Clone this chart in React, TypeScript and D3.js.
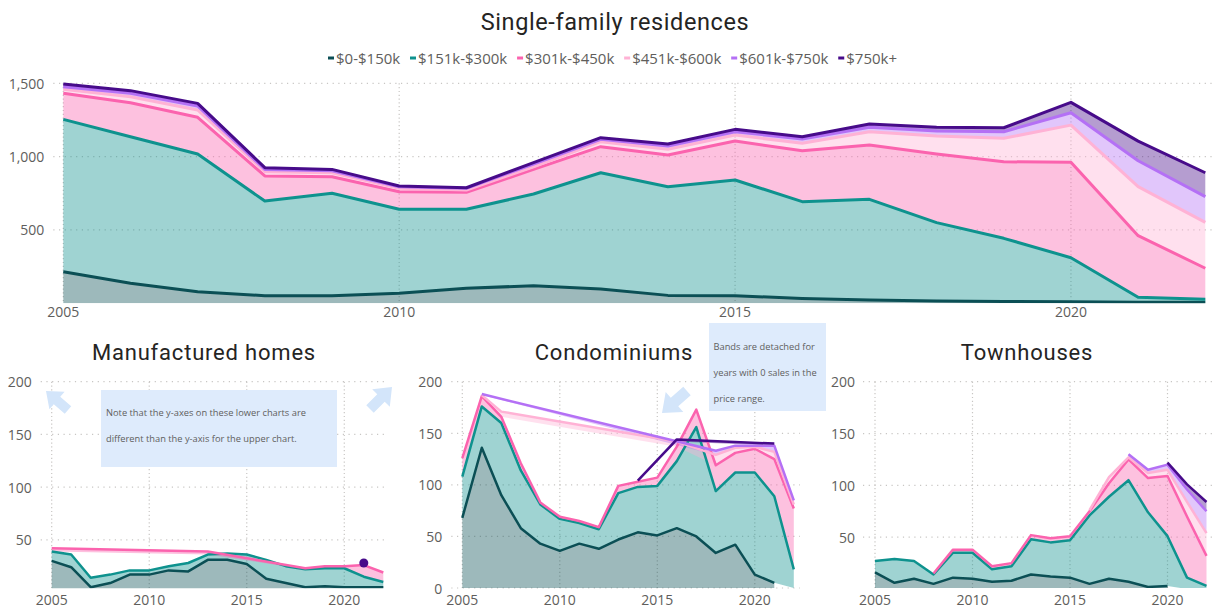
import React from 'react';
import * as d3 from 'd3';

type V = number | null;
const _ = null;

const years = [2005, 2006, 2007, 2008, 2009, 2010, 2011, 2012, 2013, 2014, 2015, 2016, 2017, 2018, 2019, 2020, 2021, 2022];
const labelYears = [2005, 2010, 2015, 2020];
const seriesNames = ['$0-$150k', '$151k-$300k', '$301k-$450k', '$451k-$600k', '$601k-$750k', '$750k+'];
const seriesColors = ['#0B4F55', '#0E928E', '#FB63AE', '#FFB2D5', '#B470F5', '#470B8A'];

// Single-family residences
const sfr0: V[] = [215, 136, 79, 52, 52, 68, 102, 120, 97, 54, 52, 32, 22, 16, 12, 10, 8, 7];
const sfr1: V[] = [1039, 1000, 939, 645, 698, 573, 539, 625, 793, 741, 789, 661, 687, 534, 431, 301, 33, 20];
const sfr2: V[] = [178, 232, 250, 171, 113, 120, 116, 168, 178, 216, 265, 347, 370, 468, 522, 650, 420, 212];
const sfr3: V[] = [27, 40, 50, 29, 27, 23, 15, 18, 34, 39, 41, 51, 91, 122, 160, 254, 334, 313];
const sfr4: V[] = [18, 24, 27, 16, 14, 11, 12, 19, 16, 22, 23, 29, 30, 35, 45, 84, 177, 175];
const sfr5: V[] = [18, 18, 18, 12, 9, 5, 4, 9, 11, 14, 16, 16, 22, 25, 27, 71, 134, 163];

// Manufactured homes
const mh0: V[] = [30, 24, 5, 9, 17, 17, 21, 20, 31, 31, 27, 13, 9, 5, 6, 5, 5, 5];
const mh1: V[] = [9, 12, 9, 8, 4, 4, 4, 8, 5, 6, 9, 18, 16, 17, 17, 18, 10, 5];
const mh2: V[] = [3, _, _, _, _, _, _, _, 3, _, _, _, _, 1, 2, 2, 11, 9];
const mh3: V[] = [_, _, _, _, _, _, _, _, _, _, _, _, _, _, _, _, _, _];
const mh4: V[] = [_, _, _, _, _, _, _, _, _, _, _, _, _, _, _, _, _, _];
const mh5: V[] = [_, _, _, _, _, _, _, _, _, _, _, _, _, _, _, _, 2, _];

// Condominiums
const co0: V[] = [68, 136, 90, 58, 43, 36, 43, 38, 47, 54, 51, 58, 50, 34, 42, 13, 5, _];
const co1: V[] = [40, 40, 70, 56, 38, 31, 20, 19, 45, 44, 48, 65, 106, 60, 70, 99, 84, 18];
const co2: V[] = [18, 10, 6, 7, 2, 2, 2, 2, 7, 5, 8, 14, 17, 25, 19, 23, 36, 59];
const co3: V[] = [_, 1, 5, _, _, _, _, _, _, _, _, 5, _, 10, 5, 2, 7, 4];
const co4: V[] = [_, 1, _, _, _, _, _, _, _, _, _, _, _, 4, 2, 1, 6, 4];
const co5: V[] = [_, _, _, _, _, _, _, _, _, 1, _, 2, _, _, _, _, 2, _];

// Townhouses
const th0: V[] = [16, 6, 10, 5, 11, 10, 7, 8, 14, 12, 11, 5, 10, 7, 2, 3, _, _];
const th1: V[] = [11, 23, 17, 9, 24, 25, 12, 14, 34, 33, 36, 66, 79, 98, 72, 48, 11, 3];
const th2: V[] = [_, _, _, 1, 3, 3, 3, 3, 4, 4, 4, 4, 13, 20, 33, 58, 59, 29];
const th3: V[] = [_, _, _, _, _, _, _, _, _, _, _, 1, 6, 2, 5, 6, 14, 22];
const th4: V[] = [_, _, _, _, _, _, _, _, _, _, _, _, _, 3, 3, 5, 12, 21];
const th5: V[] = [_, _, _, _, _, _, _, _, _, _, _, _, _, _, _, 2, 5, 9];

const FONT = "'Segoe UI', 'Open Sans', sans-serif";
const TITLE_FONT = "'DIN', Roboto, sans-serif";
const GREY = '#605E5C';
const GRID = '#C8C6C4';

type P = { year: number; y0: number; y1: number };

function stackSeries(series: V[][]): P[][] {
  return series.map((vals, k) => {
    const pts: P[] = [];
    vals.forEach((v, i) => {
      if (v == null) return;
      let base = 0;
      for (let j = 0; j < k; j++) {
        const w = series[j][i];
        if (w != null) base += w;
      }
      pts.push({ year: years[i], y0: base, y1: base + v });
    });
    return pts;
  });
}

type PanelProps = {
  id: string;
  series: V[][];
  xRange: [number, number];
  yRange: [number, number];
  yDomain: [number, number];
  ticks: number[];
  fmt: (n: number) => string;
  gridLeftPad: number;
  gridRightPad: number;
  labelGap: number;
  xLabelY: number;
  lw: number;
  title: string;
  titleX: number;
  titleY: number;
  titleSize: number;
  titleSpacing: number;
};

function Panel(p: PanelProps) {
  const x = d3.scaleLinear().domain([years[0], years[years.length - 1]]).range(p.xRange);
  const y = d3.scaleLinear().domain(p.yDomain).range(p.yRange);
  const stacked = stackSeries(p.series);
  const area = d3.area<P>().x(d => x(d.year)).y0(d => y(d.y0)).y1(d => y(d.y1));
  const line = d3.line<P>().x(d => x(d.year)).y(d => y(d.y1));
  const x0 = p.xRange[0];
  const x1 = p.xRange[1];
  const yTop = y(p.yDomain[1]);
  const yBot = p.yRange[0];
  const ticks = p.ticks.filter(t => t >= p.yDomain[0]);
  return (
    <g>
      <defs>
        <clipPath id={p.id}>
          <rect x={x0 - 20} y={0} width={x1 - x0 + 40} height={yBot} />
        </clipPath>
      </defs>
      <text x={p.titleX} y={p.titleY} textAnchor="middle" dominantBaseline="central"
        fontFamily={TITLE_FONT} fontSize={p.titleSize} letterSpacing={p.titleSpacing} fill="#252423">{p.title}</text>
      {ticks.map(t => (
        <g key={'h' + t}>
          <line x1={x0 - p.gridLeftPad} x2={x1 + p.gridRightPad} y1={y(t)} y2={y(t)}
            stroke={GRID} strokeWidth={1.2} strokeDasharray="1.2,4.5" />
          <text x={x0 - p.labelGap} y={y(t)} textAnchor="end" dominantBaseline="central"
            fontFamily={FONT} fontSize={14} fill={GREY}>{p.fmt(t)}</text>
        </g>
      ))}
      {labelYears.map(yr => (
        <g key={'v' + yr}>
          <line x1={x(yr)} x2={x(yr)} y1={yTop} y2={yBot} stroke={GRID} strokeWidth={1.2} strokeDasharray="1.2,2.6" />
          <text x={x(yr)} y={p.xLabelY} textAnchor="middle" dominantBaseline="central"
            fontFamily={FONT} fontSize={14} fill={GREY}>{yr}</text>
        </g>
      ))}
      <g clipPath={`url(#${p.id})`}>
        {stacked.map((pts, k) => pts.length > 1 ? (
          <path key={'a' + k} d={area(pts) || ''} fill={seriesColors[k]} fillOpacity={0.4} stroke="none" />
        ) : null)}
        {stacked.map((pts, k) => pts.length > 1 ? (
          <path key={'l' + k} d={line(pts) || ''} fill="none" stroke={seriesColors[k]} strokeWidth={p.lw}
            strokeLinejoin="round" />
        ) : pts.length === 1 ? (
          <circle key={'c' + k} cx={x(pts[0].year)} cy={y(pts[0].y1)} r={4.5} fill={seriesColors[k]} />
        ) : null)}
      </g>
    </g>
  );
}

function measure(text: string, font: string): number {
  const c = document.createElement('canvas').getContext('2d');
  if (!c) return text.length * 8;
  c.font = font;
  return c.measureText(text).width;
}

function Legend({ left, right, cy }: { left: number; right: number; cy: number }) {
  const fs = 15;
  const font = `${fs}px 'Segoe UI', 'Open Sans', sans-serif`;
  const widths = seriesNames.map(n => measure(n, font));
  const mW = 6, mGap = 2;
  const inner = widths.reduce((s, w) => s + mW + mGap + w, 0);
  const iGap = Math.max(3, (right - left - inner) / (widths.length - 1));
  let xx = left;
  const items = seriesNames.map((n, i) => {
    const it = { x: xx, n, c: seriesColors[i] };
    xx += mW + mGap + widths[i] + iGap;
    return it;
  });
  return (
    <g>
      {items.map(it => (
        <g key={it.n}>
          <line x1={it.x} x2={it.x + mW} y1={cy} y2={cy} stroke={it.c} strokeWidth={3} />
          <text x={it.x + mW + mGap} y={cy} dominantBaseline="central" fontFamily={FONT} fontSize={fs} fill={GREY}>{it.n}</text>
        </g>
      ))}
    </g>
  );
}

function Arrow({ tip, tail }: { tip: [number, number]; tail: [number, number] }) {
  const dx = tip[0] - tail[0], dy = tip[1] - tail[1];
  const L = Math.hypot(dx, dy);
  const ux = dx / L, uy = dy / L, nx = -uy, ny = ux;
  const neck = [tail[0] + ux * L * 0.5, tail[1] + uy * L * 0.5];
  const sw = L * 0.17, hw = L * 0.4;
  const pts = [
    [tail[0] + nx * sw, tail[1] + ny * sw],
    [neck[0] + nx * sw, neck[1] + ny * sw],
    [neck[0] + nx * hw, neck[1] + ny * hw],
    tip,
    [neck[0] - nx * hw, neck[1] - ny * hw],
    [neck[0] - nx * sw, neck[1] - ny * sw],
    [tail[0] - nx * sw, tail[1] - ny * sw],
  ];
  return <polygon points={pts.map(q => q.join(',')).join(' ')} fill="#D3E5FA" />;
}

export default function App() {
  const comma = d3.format(',');
  const plain = (n: number) => String(n);
  return (
    <svg width={1216} height={608} style={{ position: 'absolute', left: 0, top: 0, background: '#fff' }}>
      <rect width={1216} height={608} fill="#fff" />
      <Panel id="c-sfr" series={[sfr0, sfr1, sfr2, sfr3, sfr4, sfr5]}
        xRange={[63.3, 1205.3]} yRange={[303.3, 83.3]} yDomain={[0, 1500]} ticks={[500, 1000, 1500]} fmt={comma}
        gridLeftPad={10} gridRightPad={8} labelGap={19} xLabelY={311.5} lw={3}
        title="Single-family residences" titleX={615} titleY={22} titleSize={23.5} titleSpacing={0.6} />
      <Legend left={328} right={897} cy={58} />
      <Panel id="c-mh" series={[mh0, mh1, mh2, mh3, mh4, mh5]}
        xRange={[51.7, 383.3]} yRange={[588.3, 381.7]} yDomain={[4, 200]} ticks={[0, 50, 100, 150, 200]} fmt={plain}
        gridLeftPad={11} gridRightPad={5} labelGap={20} xLabelY={599.5} lw={2.5}
        title="Manufactured homes" titleX={204} titleY={352} titleSize={22} titleSpacing={0.8} />
      <Panel id="c-co" series={[co0, co1, co2, co3, co4, co5]}
        xRange={[462.3, 793.8]} yRange={[588, 381.7]} yDomain={[0, 200]} ticks={[0, 50, 100, 150, 200]} fmt={plain}
        gridLeftPad={11} gridRightPad={6} labelGap={20} xLabelY={599.5} lw={2.5}
        title="Condominiums" titleX={614} titleY={352} titleSize={22} titleSpacing={0.8} />
      <Panel id="c-th" series={[th0, th1, th2, th3, th4, th5]}
        xRange={[875, 1206.5]} yRange={[588, 381.7]} yDomain={[1, 200]} ticks={[0, 50, 100, 150, 200]} fmt={plain}
        gridLeftPad={12} gridRightPad={6} labelGap={20} xLabelY={599.5} lw={2.5}
        title="Townhouses" titleX={1027} titleY={352} titleSize={22} titleSpacing={0.8} />

      {/* Annotations */}
      <rect x={101} y={390} width={236} height={77} fill="#DEEBFC" />
      <text x={106} y={412} dominantBaseline="central" fontFamily={FONT} fontSize={9.3} fill={GREY}>Note that the y-axes on these lower charts are</text>
      <text x={106} y={438} dominantBaseline="central" fontFamily={FONT} fontSize={9.3} fill={GREY}>different than the y-axis for the upper chart.</text>
      <Arrow tip={[46, 391]} tail={[68, 410]} />
      <Arrow tip={[392, 387]} tail={[370, 409]} />

      <rect x={709} y={323} width={117} height={88} fill="#DEEBFC" />
      <text x={713.5} y={346} dominantBaseline="central" fontFamily={FONT} fontSize={9.3} fill={GREY}>Bands are detached for</text>
      <text x={713.5} y={372} dominantBaseline="central" fontFamily={FONT} fontSize={9.3} fill={GREY}>years with 0 sales in the</text>
      <text x={713.5} y={398} dominantBaseline="central" fontFamily={FONT} fontSize={9.3} fill={GREY}>price range.</text>
      <Arrow tip={[662, 413]} tail={[687, 391]} />
    </svg>
  );
}
